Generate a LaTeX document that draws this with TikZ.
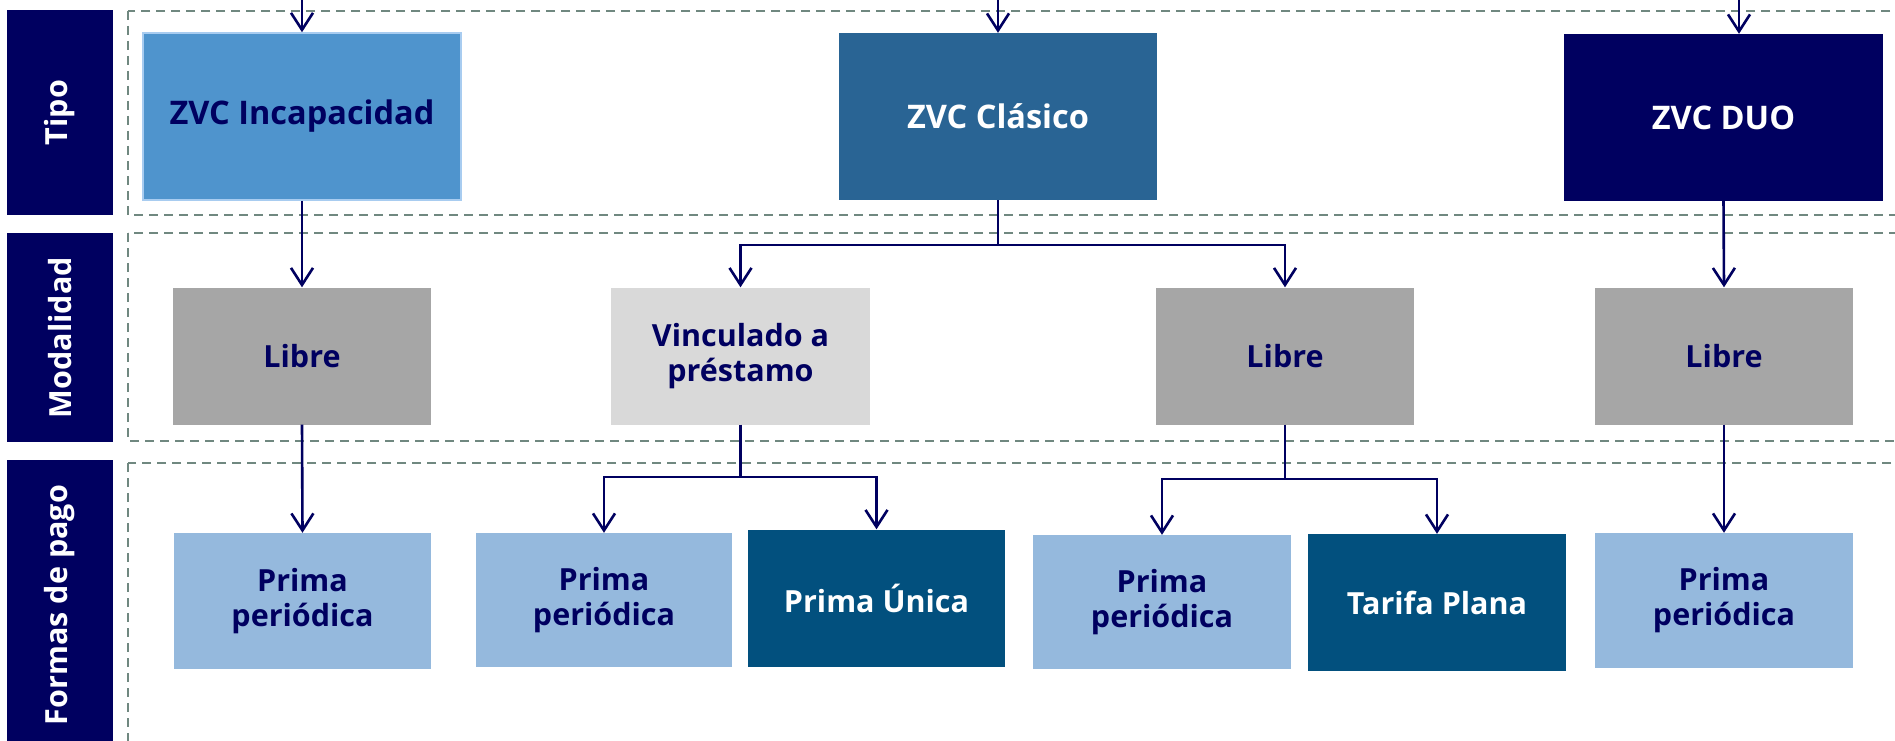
\documentclass[tikz,border=0pt]{standalone}
\usepackage{fontspec}
\setmainfont{Open Sans}
\usetikzlibrary{arrows.meta}
\definecolor{navy}{RGB}{0,0,96}
\definecolor{incfill}{RGB}{79,148,205}
\definecolor{incdraw}{RGB}{168,204,240}
\definecolor{clafill}{RGB}{41,100,148}
\definecolor{libfill}{RGB}{166,166,166}
\definecolor{vinfill}{RGB}{217,217,217}
\definecolor{ppfill}{RGB}{149,185,221}
\definecolor{pufill}{RGB}{2,80,126}
\definecolor{dashcol}{RGB}{112,136,128}
\tikzset{
  boxtxt/.style={rectangle, inner sep=0pt, align=center,
    font=\fontsize{30.5}{35}\selectfont\bfseries},
  toptxt/.style={boxtxt, font=\fontsize{32.5}{38}\selectfont\bfseries},
  lab/.style={boxtxt, fill=navy, text=white, rotate=90},
  incbox/.style={toptxt, fill=incfill, draw=incdraw, line width=1.5pt, text=navy},
  clabox/.style={toptxt, fill=clafill, text=white},
  duobox/.style={toptxt, fill=navy, text=white},
  libbox/.style={boxtxt, fill=libfill, text=navy},
  vinbox/.style={boxtxt, fill=vinfill, text=navy},
  ppbox/.style={boxtxt, fill=ppfill, text=navy},
  pubox/.style={boxtxt, fill=pufill, text=white},
  dashbox/.style={draw=dashcol, line width=1.5pt, dash pattern=on 9pt off 6pt},
  arr/.style={draw=navy, line width=2.6pt, -{Straight Barb[length=17pt,width=22pt]}},
  ln/.style={draw=navy, line width=2.6pt},
}
\begin{document}
\begin{tikzpicture}[x=1pt,y=-1pt]
\useasboundingbox (0,0) rectangle (1895,741);
\clip (0,0) rectangle (1895,741);
\fill[white] (0,0) rectangle (1895,741);

% dashed bands
\draw[dashbox] (128,11) rectangle (1930,215);
\draw[dashbox] (128,233) rectangle (1930,441);
\draw[dashbox] (128,463) rectangle (1930,780);

% row labels
\node[lab, minimum width=205pt, minimum height=106pt] (ltipo) at (60,112.5) {Tipo};
\node[lab, minimum width=209pt, minimum height=106pt] (lmod) at (60,337.5) {Modalidad};
\node[lab, minimum width=290pt, minimum height=106pt] (lfor) at (60,605) {Formas de pago};

% Tipo
\node[incbox, minimum width=318pt, minimum height=167pt] (inc) at (302,116.5) {ZVC Incapacidad};
\node[clabox, minimum width=318pt, minimum height=167pt] (cla) at (998,116.5) {ZVC Clásico};
\node[duobox, minimum width=319pt, minimum height=167pt] (duo) at (1723.5,117.5) {ZVC DUO};

% Modalidad
\node[libbox, minimum width=258pt, minimum height=137pt] (lib1) at (302,356) {Libre};
\node[vinbox, minimum width=259pt, minimum height=137pt] (vin) at (740.5,356) {Vinculado a\\préstamo};
\node[libbox, minimum width=258pt, minimum height=137pt] (lib3) at (1285,356) {Libre};
\node[libbox, minimum width=258pt, minimum height=137pt] (lib4) at (1724,356) {Libre};

% Formas de pago
\node[ppbox, minimum width=257pt, minimum height=136pt] (pp1) at (302.5,601) {Prima\\periódica};
\node[ppbox, minimum width=256pt, minimum height=134pt] (pp2) at (604,600) {Prima\\periódica};
\node[pubox, minimum width=257pt, minimum height=137pt] (pu) at (876.5,598) {Prima Única};
\node[ppbox, minimum width=258pt, minimum height=134pt] (pp3) at (1162,602) {Prima\\periódica};
\node[pubox, minimum width=258pt, minimum height=137pt] (tar) at (1437,602.5) {Tarifa Plana};
\node[ppbox, minimum width=258pt, minimum height=135pt] (pp4) at (1724,600.5) {Prima\\periódica};

% incoming arrows
\coordinate (in1) at (302,-5);
\coordinate (in2) at (998,-5);
\coordinate (in3) at (1739,-5);
\draw[arr] (in1) -- (in1 |- inc.north);
\draw[arr] (in2) -- (in2 |- cla.north);
\draw[arr] (in3) -- (in3 |- duo.north);

% Tipo -> Modalidad
\draw[arr] (inc.south) -- (lib1.north);
\coordinate (j1) at (998,245);
\draw[ln] (cla.south) -- (j1);
\draw[arr] (j1) -| (vin.north);
\draw[arr] (j1) -| (lib3.north);
\draw[arr] (duo.south) -- (lib4.north);

% Modalidad -> Formas
\draw[arr] (lib1.south) -- (pp1.north);
\coordinate (j2) at (740.5,477);
\draw[ln] (vin.south) -- (j2);
\draw[arr] (j2) -| (pp2.north);
\draw[arr] (j2) -| (pu.north);
\coordinate (j3) at (1285,479);
\draw[ln] (lib3.south) -- (j3);
\draw[arr] (j3) -| (pp3.north);
\draw[arr] (j3) -| (tar.north);
\draw[arr] (lib4.south) -- (pp4.north);
\end{tikzpicture}
\end{document}
